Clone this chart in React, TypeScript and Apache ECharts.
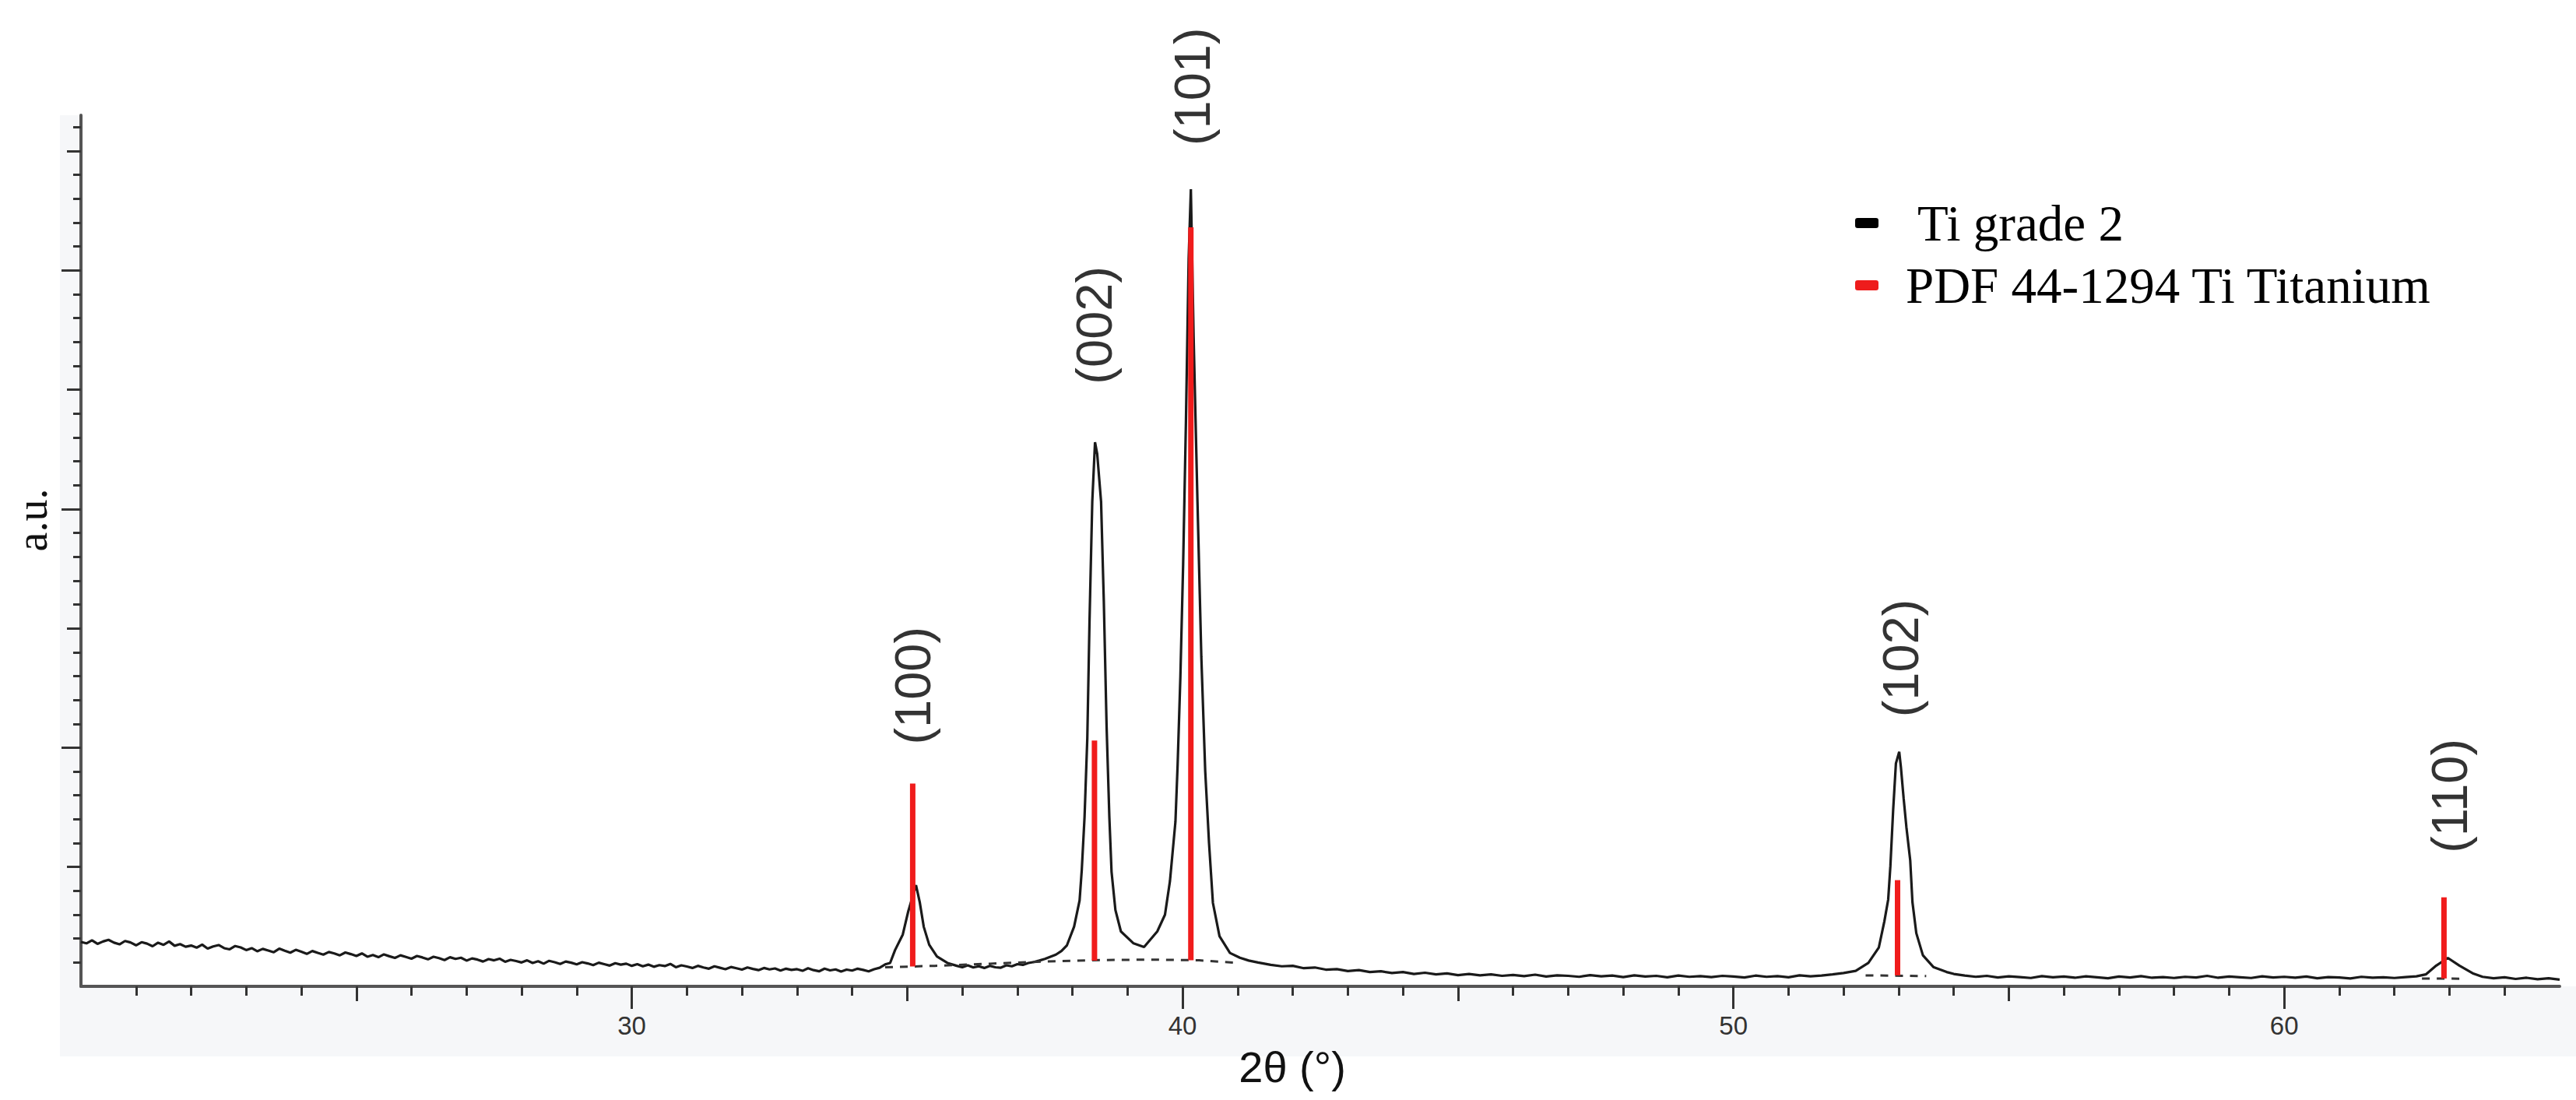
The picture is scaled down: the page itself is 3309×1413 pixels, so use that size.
import React, { useEffect, useRef } from "react";
import * as echarts from "echarts";

// ---- axes ----
const X_MIN = 20;
const X_MAX = 65;
const Y_MIN = 0;
const Y_MAX = 36.5;
const X_LABELED_TICKS = [30, 40, 50, 60];
const X_MID_TICKS = [25, 35, 45, 55];
const Y_MAJOR_TICKS = [10, 20, 30];
const Y_MID_TICKS = [5, 15, 25, 35];

// ---- measured pattern (Ti grade 2) ----
const LEFT_BASE_START = 20.0;
const LEFT_BASE_STEP = 0.1;
const LEFT_BASE = [
  1.86, 1.8, 1.93, 1.78, 1.88, 1.95, 1.83, 1.76, 1.9, 1.84,
  1.72, 1.85, 1.79, 1.68, 1.83, 1.74, 1.88, 1.7, 1.77, 1.66,
  1.71, 1.62, 1.75, 1.58, 1.67, 1.73, 1.6, 1.55, 1.69, 1.63,
  1.52, 1.6, 1.47, 1.57, 1.5, 1.43, 1.58, 1.49, 1.41, 1.53,
  1.45, 1.36, 1.48, 1.4, 1.33, 1.44, 1.38, 1.3, 1.42, 1.35,
  1.27, 1.38, 1.24, 1.31, 1.22, 1.34, 1.26, 1.19, 1.3, 1.23,
  1.16, 1.27, 1.21, 1.13, 1.24, 1.18, 1.1, 1.22, 1.15, 1.2,
  1.08, 1.17, 1.12, 1.04, 1.14, 1.09, 1.16, 1.03, 1.11, 1.06,
  1.0, 1.09, 0.98, 1.05, 0.95, 1.07, 1.01, 0.94, 1.04, 0.99,
  0.92, 1.01, 0.96, 0.89, 0.99, 0.93, 0.87, 0.97, 0.91, 0.95,
  0.86, 0.93, 0.84, 0.91, 0.82, 0.89, 0.85, 0.94, 0.8, 0.88,
  0.83, 0.77, 0.86, 0.79, 0.74, 0.84, 0.78, 0.72, 0.81, 0.76,
  0.7, 0.79, 0.73, 0.68, 0.77, 0.71, 0.75, 0.66, 0.74, 0.69,
  0.72, 0.65, 0.76, 0.68, 0.63, 0.74, 0.67, 0.71, 0.62, 0.7,
  0.66, 0.74, 0.69, 0.63, 0.72, 0.78, 0.92,
];
const PEAK_100 = [
  [34.69, 0.98], [34.78, 1.52], [34.92, 2.17], [35.02, 3.15], [35.16, 4.24],
  [35.23, 3.5], [35.3, 2.5], [35.4, 1.74], [35.54, 1.25], [35.73, 0.98],
];
const MID_BASE_START = 35.9;
const MID_BASE_STEP = 0.1;
const MID_BASE = [
  0.86, 0.8, 0.88, 0.79, 0.84, 0.77, 0.86, 0.8, 0.78, 0.88,
  0.84, 0.93, 0.9, 0.98, 1.02, 1.08, 1.15, 1.24, 1.33, 1.48, 1.72,
];
const PEAKS_002_101 = [
  [38.03, 2.5], [38.13, 3.6], [38.17, 4.9], [38.22, 7.1], [38.27, 10.4],
  [38.31, 15.3], [38.36, 20.3], [38.41, 22.8], [38.45, 22.3], [38.52, 20.3],
  [38.57, 16.1], [38.62, 10.9], [38.67, 7.1], [38.71, 4.8], [38.78, 3.2],
  [38.88, 2.3], [39.11, 1.8], [39.3, 1.65], [39.54, 2.3], [39.68, 3.0],
  [39.77, 4.4], [39.87, 6.9], [39.91, 9.3], [39.96, 13.0], [40.01, 17.7],
  [40.06, 23.6], [40.11, 30.5], [40.15, 33.4], [40.2, 27.2], [40.27, 20.3],
  [40.34, 13.8], [40.41, 9.05], [40.48, 6.0], [40.55, 3.5], [40.67, 2.1],
  [40.86, 1.4], [41.04, 1.2], [41.2, 1.08], [41.37, 1.0],
];
const RIGHT_BASE_A_START = 41.6;
const RIGHT_BASE_A_STEP = 0.2;
const RIGHT_BASE_A = [
  0.9, 0.84, 0.86, 0.76, 0.79, 0.7, 0.72, 0.64, 0.68, 0.6,
  0.63, 0.56, 0.6, 0.52, 0.57, 0.5, 0.54, 0.47, 0.52, 0.46,
  0.5, 0.44, 0.48, 0.43, 0.49, 0.41, 0.46, 0.44, 0.4, 0.47,
  0.42, 0.45, 0.39, 0.46, 0.41, 0.44, 0.38, 0.45, 0.4, 0.43,
  0.39, 0.44, 0.41, 0.37, 0.45, 0.4, 0.43, 0.38, 0.46, 0.42,
  0.45, 0.5, 0.56,
];
const PEAK_102 = [
  [52.22, 0.65], [52.45, 0.98], [52.64, 1.63], [52.74, 2.72], [52.81, 3.64],
  [52.85, 5.05], [52.9, 7.39], [52.95, 9.34], [53.01, 9.83], [53.04, 9.2],
  [53.09, 7.88], [53.14, 6.68], [53.21, 5.27], [53.25, 3.53], [53.32, 2.23],
  [53.44, 1.3], [53.63, 0.81], [53.87, 0.6],
];
const RIGHT_BASE_B_START = 54.0;
const RIGHT_BASE_B_STEP = 0.2;
const RIGHT_BASE_B = [
  0.52,
  0.45, 0.4, 0.44, 0.37, 0.42, 0.39, 0.35, 0.43, 0.38, 0.41,
  0.36, 0.42, 0.38, 0.34, 0.41, 0.37, 0.43, 0.36, 0.39, 0.35,
  0.4, 0.37, 0.44, 0.36, 0.41, 0.38, 0.35, 0.42, 0.37, 0.4,
  0.36, 0.41, 0.34, 0.39, 0.37, 0.33, 0.4, 0.36, 0.38, 0.35,
  0.39, 0.42,
];
const PEAK_110 = [
  [62.57, 0.5], [62.76, 0.87], [62.97, 1.19], [63.18, 0.87], [63.42, 0.55],
];
const RIGHT_BASE_C_START = 63.6;
const RIGHT_BASE_C_STEP = 0.2;
const RIGHT_BASE_C = [0.4, 0.34, 0.38, 0.31, 0.36, 0.3, 0.34, 0.28];

// ---- fitted background (dashed) ----
const BG_1 = [
  [34.6, 0.8], [35.5, 0.86], [36.5, 0.95], [37.5, 1.04], [38.5, 1.1],
  [39.5, 1.12], [40.3, 1.09], [41.0, 0.98],
];
const BG_2 = [[52.4, 0.46], [53.5, 0.43]];
const BG_3 = [[62.5, 0.33], [63.3, 0.32]];

// ---- reference pattern PDF 44-1294 ----
const REF_POS = [35.1, 38.4, 40.15, 52.98, 62.9];
const REF_BASE = [0.83, 1.08, 1.09, 0.46, 0.33];
const REF_TOP = [8.5, 10.3, 31.8, 4.45, 3.73];

// ---- Miller index annotations ----
const HKL = ["(100)", "(002)", "(101)", "(102)", "(110)"];
const HKL_X = [35.1, 38.4, 40.18, 53.04, 63.0];
const HKL_Y = [12.6, 27.7, 37.7, 13.75, 7.98];

const SERIES_SAMPLE = "Ti grade 2";
const SERIES_REF = "PDF 44-1294 Ti Titanium";

function gridSeg(start: number, step: number, values: number[]) {
  return values.map((v, i) => [Number((start + i * step).toFixed(2)), v]);
}

function intRange(a: number, b: number) {
  const out: number[] = [];
  for (let i = a; i <= b; i++) out.push(i);
  return out;
}

export default function App() {
  const ref = useRef<HTMLDivElement>(null);

  useEffect(() => {
    if (!ref.current) return;
    const chart = echarts.init(ref.current, null, { renderer: "svg" });

    const spectrum = [
      ...gridSeg(LEFT_BASE_START, LEFT_BASE_STEP, LEFT_BASE),
      ...PEAK_100,
      ...gridSeg(MID_BASE_START, MID_BASE_STEP, MID_BASE),
      ...PEAKS_002_101,
      ...gridSeg(RIGHT_BASE_A_START, RIGHT_BASE_A_STEP, RIGHT_BASE_A),
      ...PEAK_102,
      ...gridSeg(RIGHT_BASE_B_START, RIGHT_BASE_B_STEP, RIGHT_BASE_B),
      ...PEAK_110,
      ...gridSeg(RIGHT_BASE_C_START, RIGHT_BASE_C_STEP, RIGHT_BASE_C),
    ];

    const background = [...BG_1, [41.5, "-"], ...BG_2, [58, "-"], ...BG_3];

    const tickStyle = { color: "#333", width: 3 };
    const xBase: any = {
      type: "value",
      min: X_MIN,
      max: X_MAX,
      position: "bottom",
      splitLine: { show: false },
      axisLine: { show: false },
      axisLabel: { show: false },
    };
    const yBase: any = {
      type: "value",
      min: Y_MIN,
      max: Y_MAX,
      position: "left",
      splitLine: { show: false },
      axisLine: { show: false },
      axisLabel: { show: false },
    };

    chart.setOption({
      animation: false,
      backgroundColor: "#ffffff",
      grid: { left: 104, right: 21, top: 148, bottom: 146, containLabel: false },
      xAxis: [
        {
          ...xBase,
          axisLine: { show: true, onZero: false, lineStyle: { color: "#555", width: 4 } },
          axisTick: { show: true, length: 12, customValues: intRange(21, 64), lineStyle: tickStyle },
        },
        {
          ...xBase,
          axisTick: { show: true, length: 19, customValues: X_MID_TICKS, lineStyle: tickStyle },
        },
        {
          ...xBase,
          axisTick: { show: true, length: 29, customValues: X_LABELED_TICKS, lineStyle: tickStyle },
          axisLabel: {
            show: true,
            customValues: X_LABELED_TICKS,
            margin: 34,
            fontSize: 33,
            fontFamily: "Liberation Sans",
            color: "#333",
          },
        },
      ],
      yAxis: [
        {
          ...yBase,
          axisLine: { show: true, onZero: false, lineStyle: { color: "#555", width: 4 } },
          axisTick: { show: true, length: 10, customValues: intRange(1, 36), lineStyle: tickStyle },
        },
        {
          ...yBase,
          axisTick: { show: true, length: 18, customValues: Y_MID_TICKS, lineStyle: tickStyle },
        },
        {
          ...yBase,
          axisTick: { show: true, length: 25, customValues: Y_MAJOR_TICKS, lineStyle: tickStyle },
        },
      ],
      legend: {
        orient: "vertical",
        left: 2378,
        top: 249,
        itemWidth: 30,
        itemHeight: 13,
        itemGap: 15,
        icon: "roundRect",
        formatter: (name: string) => (name === SERIES_SAMPLE ? " " + name : name),
        textStyle: {
          fontFamily: "Liberation Serif",
          fontSize: 65,
          color: "#000",
          padding: [0, 0, 0, 30],
        },
        data: [
          { name: SERIES_SAMPLE, itemStyle: { color: "#000" } },
          { name: SERIES_REF, itemStyle: { color: "#ee1c1c" } },
        ],
      },
      graphic: [
        { type: "rect", z: -10, shape: { x: 77, y: 148, width: 27, height: 1209 }, style: { fill: "#f6f7f9" } },
        { type: "rect", z: -10, shape: { x: 77, y: 1267, width: 3232, height: 90 }, style: { fill: "#f6f7f9" } },
        {
          type: "text",
          x: 1660,
          y: 1370,
          z: 10,
          style: {
            text: "2θ (°)",
            fontFamily: "Liberation Sans",
            fontSize: 56,
            fill: "#111",
            align: "center",
            verticalAlign: "middle",
            textAlign: "center",
            textVerticalAlign: "middle",
          },
        },
        {
          type: "text",
          x: 41,
          y: 668,
          rotation: Math.PI / 2,
          z: 10,
          style: {
            text: "a.u.",
            fontFamily: "Liberation Serif",
            fontSize: 56,
            fill: "#111",
            align: "center",
            verticalAlign: "middle",
            textAlign: "center",
            textVerticalAlign: "middle",
          },
        },
      ],
      series: [
        {
          name: SERIES_SAMPLE,
          type: "line",
          data: spectrum,
          showSymbol: false,
          symbol: "none",
          lineStyle: { color: "#1a1a1a", width: 3.2 },
          itemStyle: { color: "#000" },
          z: 2,
        },
        {
          name: "background",
          type: "line",
          data: background,
          showSymbol: false,
          symbol: "none",
          connectNulls: false,
          lineStyle: { color: "#333", width: 3, type: [10, 9] },
          z: 2,
        },
        {
          name: SERIES_REF,
          type: "custom",
          data: REF_POS.map((x, i) => [x, REF_BASE[i], REF_TOP[i]]),
          encode: { x: 0, y: [1, 2] },
          itemStyle: { color: "#ee1c1c" },
          renderItem: (params: any, api: any) => {
            const x = api.value(0);
            const p0 = api.coord([x, api.value(1)]);
            const p1 = api.coord([x, api.value(2)]);
            return {
              type: "line",
              shape: { x1: p0[0], y1: p0[1], x2: p1[0], y2: p1[1] },
              style: { stroke: "#f01c1c", lineWidth: 7 },
            };
          },
          z: 3,
        },
        {
          name: "hkl",
          type: "scatter",
          clip: false,
          symbolSize: 2,
          itemStyle: { color: "rgba(0,0,0,0)" },
          data: HKL_X.map((x, i) => ({ name: HKL[i], value: [x, HKL_Y[i]] })),
          label: {
            show: true,
            formatter: "{b}",
            position: "inside",
            rotate: 90,
            fontFamily: "Liberation Sans",
            fontSize: 65,
            color: "#000",
          },
          z: 4,
        },
      ],
    });

    return () => chart.dispose();
  }, []);

  return (
    <div
      ref={ref}
      style={{ position: "absolute", left: 0, top: 0, width: 3309, height: 1413, background: "#fff" }}
    />
  );
}
